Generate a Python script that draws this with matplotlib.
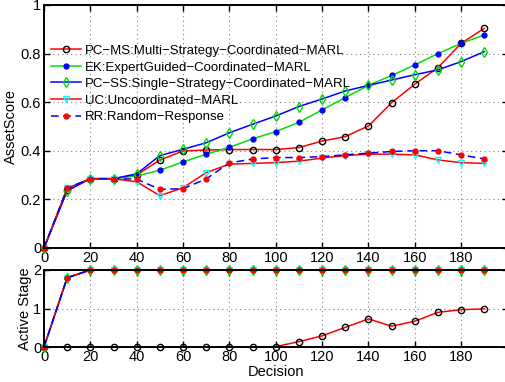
import numpy as np
import matplotlib
matplotlib.use("Agg")
import matplotlib.pyplot as plt

plt.rcParams["font.family"] = ["Liberation Sans", "DejaVu Sans"]

decision = np.arange(0, 200, 10)

# AssetScore per decision step
pc_ms = [0, 0.24, 0.285, 0.285, 0.30, 0.362, 0.399, 0.403, 0.405, 0.405,
         0.405, 0.413, 0.44, 0.458, 0.502, 0.598, 0.674, 0.742, 0.842, 0.904]
ek = [0, 0.245, 0.285, 0.285, 0.296, 0.32, 0.354, 0.386, 0.414, 0.449,
      0.479, 0.517, 0.568, 0.619, 0.669, 0.71, 0.753, 0.80, 0.842, 0.877]
pc_ss = [0, 0.235, 0.285, 0.285, 0.305, 0.38, 0.406, 0.433, 0.474, 0.509,
         0.543, 0.582, 0.613, 0.646, 0.669, 0.691, 0.713, 0.733, 0.767, 0.808]
uc = [0, 0.245, 0.285, 0.285, 0.272, 0.215, 0.248, 0.31, 0.345, 0.348,
      0.351, 0.357, 0.37, 0.38, 0.386, 0.386, 0.383, 0.362, 0.351, 0.348]
rr = [0, 0.245, 0.285, 0.285, 0.283, 0.241, 0.244, 0.284, 0.35, 0.366,
      0.372, 0.372, 0.376, 0.383, 0.39, 0.397, 0.40, 0.40, 0.383, 0.366]

# Active stage per decision step
st_pc_ms = [0, 0, 0, 0, 0, 0, 0, 0, 0, 0,
            0.01, 0.14, 0.29, 0.51, 0.73, 0.54, 0.67, 0.9, 0.97, 0.99]
st_other = [0, 1.8] + [2] * 18

labels = ["PC\u2212MS:Multi\u2212Strategy\u2212Coordinated\u2212MARL",
          "EK:ExpertGuided\u2212Coordinated\u2212MARL",
          "PC\u2212SS:Single\u2212Strategy\u2212Coordinated\u2212MARL",
          "UC:Uncoordinated\u2212MARL",
          "RR:Random\u2212Response"]

styles = [
    dict(color="red", ls="-", marker="o", mfc="none", mec="black", ms=4.5, mew=1.0),
    dict(color="#00e000", ls="-", marker="o", mfc="blue", mec="blue", ms=3.5),
    dict(color="blue", ls="-", marker="d", mfc="none", mec="#00e000", ms=5, mew=1.0),
    dict(color="red", ls="-", marker="v", mfc="none", mec="cyan", ms=5, mew=1.0),
    dict(color="blue", ls=(0, (5, 3)), marker="o", mfc="red", mec="red", ms=3.5),
]

fig = plt.figure(figsize=(5.06, 3.82), dpi=100)
ax1 = fig.add_axes([0.087, 0.351, 0.916, 0.636])
ax2 = fig.add_axes([0.087, 0.0916, 0.916, 0.2016])


def style_axes(ax):
    ax.grid(True, ls=(0, (1, 3)), color="0.5", lw=0.8)
    ax.tick_params(direction="in", top=True, right=True, labelsize=10.5,
                   length=4, width=1, pad=2)
    for s in ax.spines.values():
        s.set_linewidth(1.4)
    ax.set_xlim(0, 200)
    ax.set_xticks(np.arange(0, 200, 20))


for y, lab, st in zip([pc_ms, ek, pc_ss, uc, rr], labels, styles):
    ax1.plot(decision, y, lw=1.1, label=lab, clip_on=False, **st)
style_axes(ax1)
ax1.set_ylim(0, 1)
ax1.set_yticks([0, 0.2, 0.4, 0.6, 0.8, 1])
ax1.set_yticklabels(["0", "0.2", "0.4", "0.6", "0.8", "1"])
ax1.set_ylabel("AssetScore", fontsize=10.5, labelpad=2)
ax1.legend(loc="upper left", bbox_to_anchor=(-0.008, 0.88), frameon=False,
           fontsize=9.5, handlelength=2.3, handletextpad=0.3,
           labelspacing=0.33, borderaxespad=0.4)

for y, st in zip([st_pc_ms, st_other, st_other, st_other, st_other], styles):
    ax2.plot(decision, y, lw=1.1, clip_on=False, **st)
style_axes(ax2)
ax2.set_ylim(0, 2)
ax2.set_yticks([0, 1, 2])
ax2.set_ylabel("Active Stage", fontsize=10.5, labelpad=1)
ax2.set_xlabel("Decision", fontsize=10.5, labelpad=1)

fig.savefig("out.png", dpi=100)
